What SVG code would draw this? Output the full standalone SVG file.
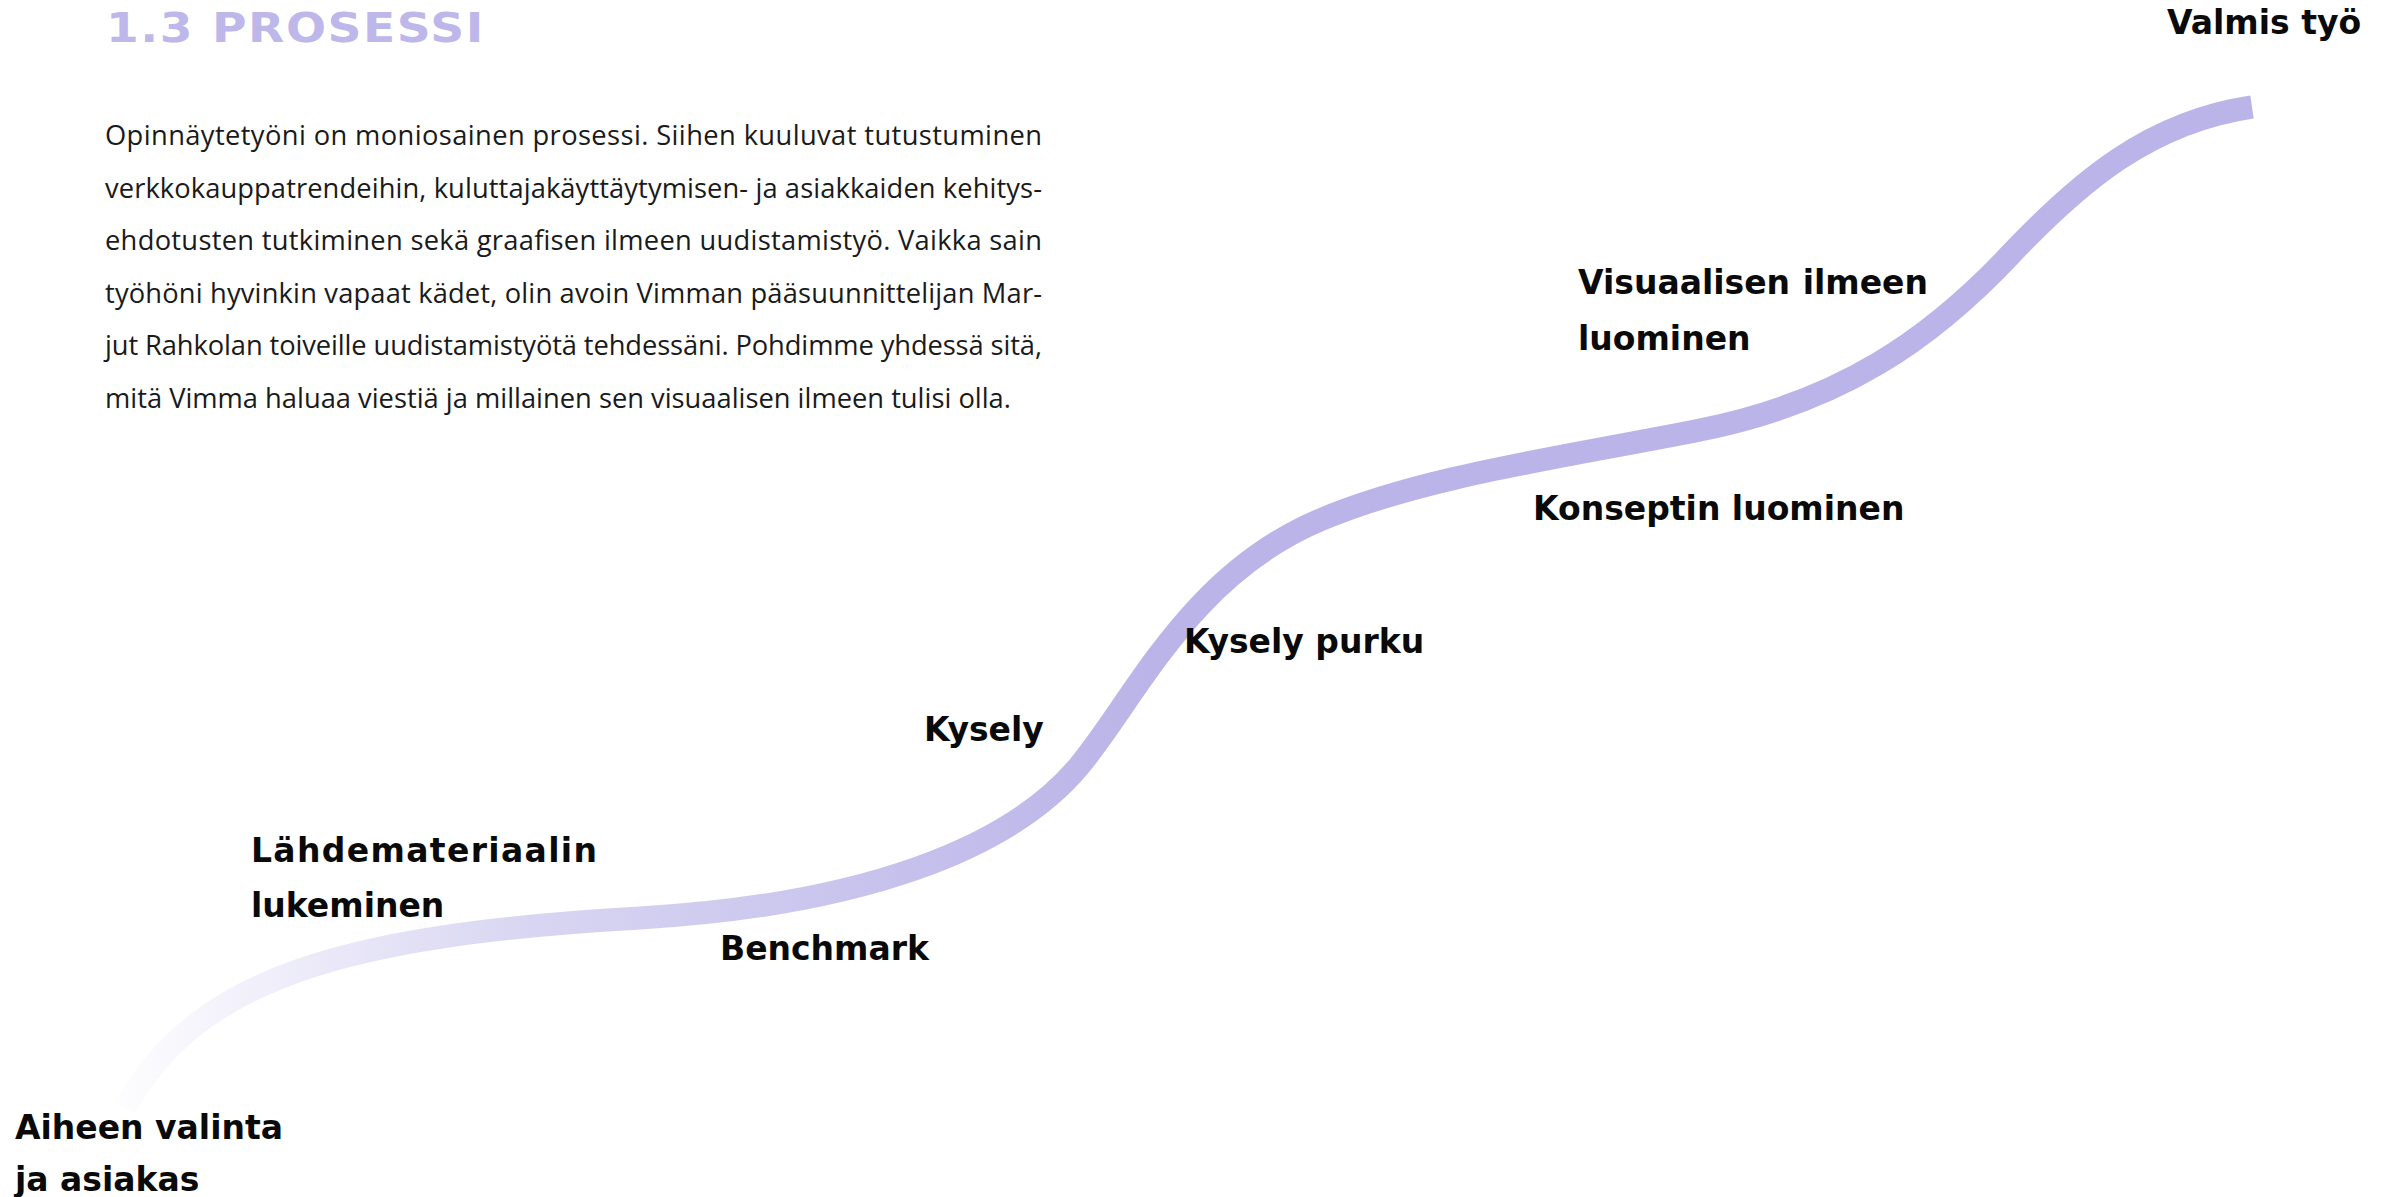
<svg xmlns="http://www.w3.org/2000/svg" width="2385" height="1197" viewBox="0 0 2385 1197">
  <defs>
    <linearGradient id="fade" gradientUnits="userSpaceOnUse" x1="100" y1="0" x2="1150" y2="0">
      <stop offset="0" stop-color="#bab4e8" stop-opacity="0"/>
      <stop offset="0.4" stop-color="#bab4e8" stop-opacity="0.55"/>
      <stop offset="1" stop-color="#bab4e8" stop-opacity="1"/>
    </linearGradient>
    <style>
      .title { font-family: "DejaVu Sans", sans-serif; font-weight: bold; font-size: 41px; fill: #bdb7ea; }
      .body { font-family: "Open Sans", "Noto Sans", sans-serif; font-size: 27.3px; fill: #1a1a1a; }
      .label { font-family: "DejaVu Sans", sans-serif; font-weight: bold; font-size: 33px; fill: #0a0a0a; }
    </style>
  </defs>
  <rect width="2385" height="1197" fill="#ffffff"/>

  <g id="title">
    <text class="title" transform="translate(106,42) scale(1.15,1)" x="0" y="0" textLength="328" lengthAdjust="spacing">1.3 PROSESSI</text>
  </g>

  <g id="intro">
    <text class="body" x="105" y="145" textLength="937" lengthAdjust="spacing">Opinnäytetyöni on moniosainen prosessi. Siihen kuuluvat tutustuminen</text>
    <text class="body" x="105" y="197.5" textLength="937" lengthAdjust="spacing">verkkokauppatrendeihin, kuluttajakäyttäytymisen- ja asiakkaiden kehitys-</text>
    <text class="body" x="105" y="250" textLength="937" lengthAdjust="spacing">ehdotusten tutkiminen sekä graafisen ilmeen uudistamistyö. Vaikka sain</text>
    <text class="body" x="105" y="302.5" textLength="937" lengthAdjust="spacing">työhöni hyvinkin vapaat kädet, olin avoin Vimman pääsuunnittelijan Mar-</text>
    <text class="body" x="105" y="355" textLength="937" lengthAdjust="spacing">jut Rahkolan toiveille uudistamistyötä tehdessäni. Pohdimme yhdessä sitä,</text>
    <text class="body" x="105" y="407.5">mitä Vimma haluaa viestiä ja millainen sen visuaalisen ilmeen tulisi olla.</text>
  </g>

  <g id="connectors">
    <path d="M125,1108 C195,980 340,935 640,918 C860,905 1010,850 1080,765 C1136,697 1190,575 1320,520 C1424,476 1560,458 1700,430 C1840,402 1930,340 2010,255 C2080,181 2150,122 2252,107" fill="none" stroke="url(#fade)" stroke-width="23" stroke-linecap="butt"/>
  </g>

  <g id="node-aiheen">
    <text class="label" x="15" y="1139">Aiheen valinta</text>
    <text class="label" x="15" y="1191">ja asiakas</text>
  </g>
  <g id="node-lahdemateriaalin">
    <text class="label" x="251" y="862" textLength="346" lengthAdjust="spacing">Lähdemateriaalin</text>
    <text class="label" x="251" y="917">lukeminen</text>
  </g>
  <g id="node-benchmark">
    <text class="label" x="720" y="960">Benchmark</text>
  </g>
  <g id="node-kysely">
    <text class="label" x="924" y="741">Kysely</text>
  </g>
  <g id="node-kysely-purku">
    <text class="label" x="1184" y="653">Kysely purku</text>
  </g>
  <g id="node-konseptin">
    <text class="label" x="1533" y="520">Konseptin luominen</text>
  </g>
  <g id="node-visuaalisen">
    <text class="label" y="294"><tspan x="1578">Visuaalisen</tspan><tspan x="1928" text-anchor="end">ilmeen</tspan></text>
    <text class="label" x="1578" y="350">luominen</text>
  </g>
  <g id="node-valmis">
    <text class="label" x="2167" y="34">Valmis työ</text>
  </g>
</svg>
